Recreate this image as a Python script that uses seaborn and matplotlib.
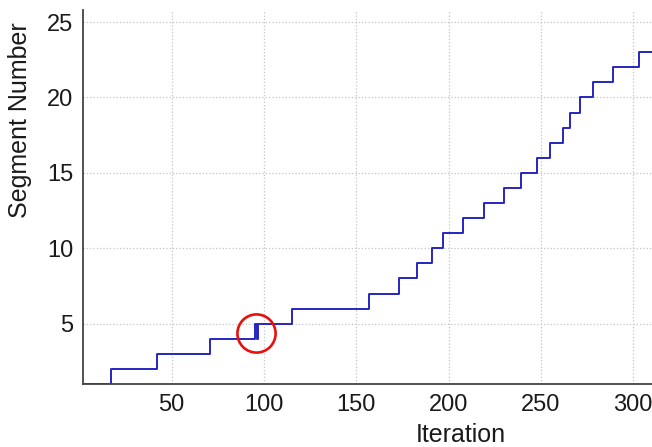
import numpy as np
import pandas as pd
import matplotlib
matplotlib.use("Agg")
import matplotlib.pyplot as plt
import seaborn as sns

# Iterations at which the segment number changes, and the new segment number
change_iters = [1, 17, 42, 71, 95, 96, 97, 115, 157, 173, 183, 191, 197, 208,
                219, 230, 239, 248, 255, 262, 266, 271, 278, 289, 303, 310]
segment_vals = [1, 2, 3, 4, 5, 4, 5, 6, 7, 8, 9, 10, 11, 12,
                13, 14, 15, 16, 17, 18, 19, 20, 21, 22, 23, 23]

x_ticks = [50, 100, 150, 200, 250, 300]
y_ticks = [5, 10, 15, 20, 25]

# highlighted glitch (iteration, segment)
highlight_x = 95.6
highlight_y = 4.4

sns.set_theme(style="white")
plt.rcParams["font.family"] = ["Liberation Sans", "DejaVu Sans"]

df = pd.DataFrame({"Iteration": change_iters, "Segment Number": segment_vals})

fig = plt.figure(figsize=(6.52, 4.47), dpi=100)
ax = fig.add_axes([83 / 652, 1 - 384 / 447, (652 - 83) / 652, (384 - 10) / 447])

sns.lineplot(data=df, x="Iteration", y="Segment Number", ax=ax,
             drawstyle="steps-post", color="#2626c0", linewidth=1.4)

ax.plot(highlight_x, highlight_y, marker="o", markersize=27.5,
        markerfacecolor="none", markeredgecolor="#e8100c", markeredgewidth=1.9,
        zorder=5, clip_on=False)

ax.set_xlim(2, 310.2)
ax.set_ylim(1, 25.8)
ax.set_xticks(x_ticks)
ax.set_yticks(y_ticks)
ax.grid(True, linestyle=":", color="#c4c4c4", linewidth=0.9)
ax.set_axisbelow(True)

for side in ["top", "right"]:
    ax.spines[side].set_visible(False)
for side in ["left", "bottom"]:
    ax.spines[side].set_color("#444444")
    ax.spines[side].set_linewidth(1.3)

ax.tick_params(axis="both", direction="in", length=5, width=1.1,
               color="#444444", labelsize=17, labelcolor="#1a1a1a", pad=7)

ax.set_xlabel("Iteration", fontsize=18, color="#1a1a1a")
ax.set_ylabel("Segment Number", fontsize=18, color="#1a1a1a")
ax.xaxis.set_label_coords(0.664, -0.105)
ax.yaxis.set_label_coords(-0.089, 0.706)

fig.savefig("out.png", dpi=100)
